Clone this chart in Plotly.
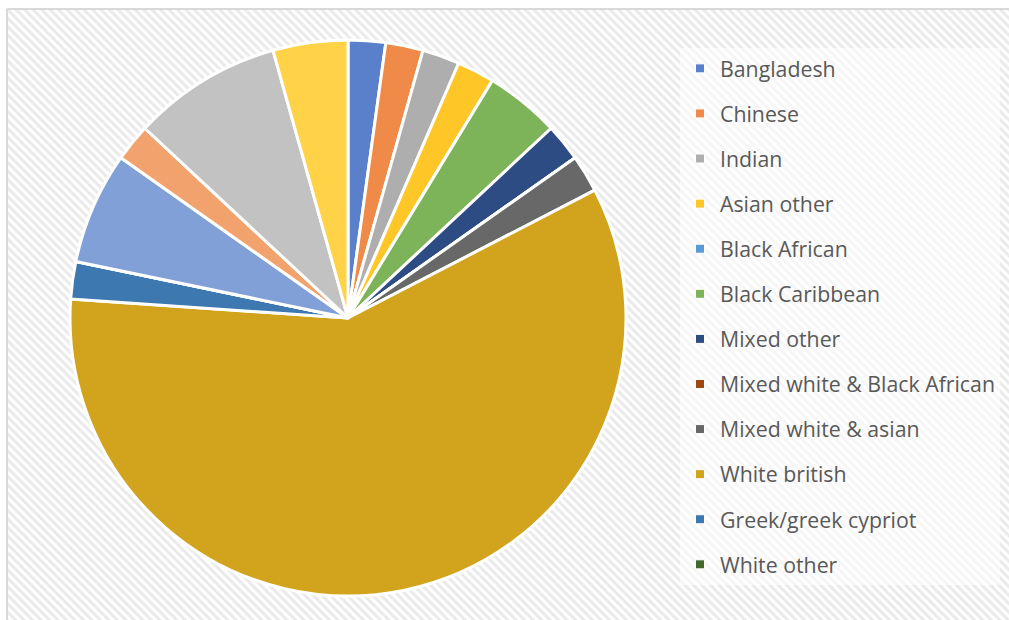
import plotly.graph_objects as go

# Pupil counts by ethnic group (first twelve groups are listed in the legend)
groups = [
    "Bangladesh", "Chinese", "Indian", "Asian other", "Black African",
    "Black Caribbean", "Mixed other", "Mixed white & Black African",
    "Mixed white & asian", "White british", "Greek/greek cypriot",
    "White other", "Irish", "Turkish/turkish cypriot", "Any other group",
    "Not obtained",
]
counts = [1, 1, 1, 1, 0, 2, 1, 0, 1, 27, 1, 0, 3, 1, 4, 2]
legend_count = 12

slice_colors = [
    "#5a80cb", "#ef8a48", "#aeaeae", "#ffc628", "#5b9bd5", "#7db45a",
    "#2e4c84", "#9e480e", "#686868", "#d2a31c", "#3d78b0", "#43682b",
    "#82a0d8", "#f2a26c", "#c2c2c2", "#ffd247",
]

W, H = 1009, 620
ML, MT = 8, 10
PW, PH = W - ML, H - MT

# pie placement in pixels
cx, cy, r = 348, 318, 278

fig = go.Figure()

# hatched chart-area background
fig.add_trace(go.Bar(
    x=[0.5], y=[1], width=[1], base=[0],
    marker=dict(
        color="white",
        line=dict(width=0),
        pattern=dict(shape="\\", fgcolor="#d6d6d6", bgcolor="white",
                     size=6, solidity=0.5),
    ),
    hoverinfo="skip", showlegend=False,
))

fig.add_trace(go.Pie(
    labels=groups, values=counts,
    sort=False, direction="clockwise", rotation=0,
    marker=dict(colors=slice_colors, line=dict(color="white", width=3)),
    textinfo="none", hoverinfo="label+value+percent",
    showlegend=False,
    domain=dict(
        x=[(cx - r - ML) / PW, (cx + r - ML) / PW],
        y=[(H - cy - r) / PH, (H - cy + r) / PH],
    ),
))

# legend entries
for name, col in zip(groups[:legend_count], slice_colors[:legend_count]):
    fig.add_trace(go.Scatter(
        x=[None], y=[None], mode="markers", name=name, legendgroup=name,
        marker=dict(symbol="square", size=9, color=col,
                    line=dict(color="white", width=1)),
    ))

fig.update_layout(
    width=W, height=H,
    margin=dict(l=ML, r=0, t=MT, b=0, pad=0),
    paper_bgcolor="white", plot_bgcolor="white",
    xaxis=dict(visible=False, range=[0, 1], domain=[0, 1], fixedrange=True),
    yaxis=dict(visible=False, range=[0, 1], domain=[0, 1], fixedrange=True),
    bargap=0,
    showlegend=True,
    legend=dict(
        x=(680 - ML) / PW, xanchor="left",
        y=(H - 48) / PH, yanchor="top",
        bgcolor="rgba(255,255,255,0.55)", borderwidth=0,
        traceorder="grouped", tracegroupgap=14.4,
        font=dict(family="Open Sans", size=21.3, color="#595959"),
        itemclick=False, itemdoubleclick=False,
    ),
    shapes=[
        dict(type="line", xref="paper", yref="paper",
             x0=-1 / PW, x1=1, y0=1 + 1 / PH, y1=1 + 1 / PH,
             line=dict(color="#d9d9d9", width=2)),
        dict(type="line", xref="paper", yref="paper",
             x0=-1 / PW, x1=-1 / PW, y0=0, y1=1 + 1 / PH,
             line=dict(color="#d9d9d9", width=2)),
    ],
)

fig.write_html("out.html")
